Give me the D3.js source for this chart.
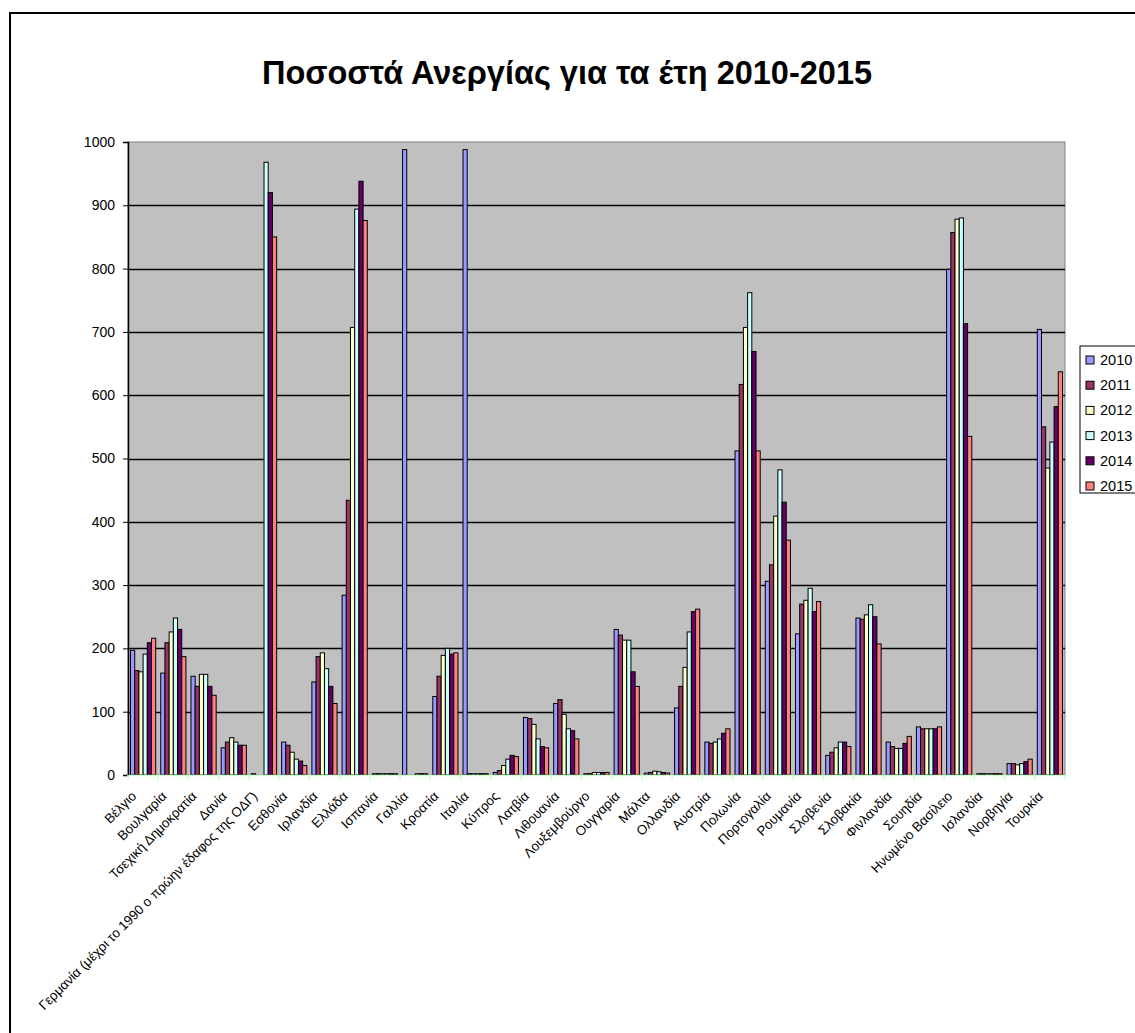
<!DOCTYPE html>
<html>
<head>
<meta charset="utf-8">
<script src="https://cdn.jsdelivr.net/npm/d3@7"></script>
<style>
	body { margin: 0; background: #fff; }
	text { font-family: "Liberation Sans", Arial, sans-serif; }
</style>
</head>
<body>
<svg id="chart" width="1135" height="1033"></svg>
<script>
// Data
var categories = [
	"Βέλγιο", "Βουλγαρία", "Τσεχική Δημοκρατία", "Δανία",
	"Γερμανία (μέχρι το 1990 ο πρώην έδαφος της ΟΔΓ)", "Εσθονία", "Ιρλανδία",
	"Ελλάδα", "Ισπανία", "Γαλλία", "Κροατία", "Ιταλία", "Κύπρος", "Λατβία",
	"Λιθουανία", "Λουξεμβούργο", "Ουγγαρία", "Μάλτα", "Ολλανδία", "Αυστρία",
	"Πολωνία", "Πορτογαλία", "Ρουμανία", "Σλοβενία", "Σλοβακία", "Φινλανδία",
	"Σουηδία", "Ηνωμένο Βασίλειο", "Ισλανδία", "Νορβηγία", "Τουρκία"
];

var years = ["2010", "2011", "2012", "2013", "2014", "2015"];

var v2010 = [197, 161, 156, 43, 2, 52, 147, 284, 2, 988, 124, 988, 4, 91, 113, 2, 230, 3, 106, 52, 512, 306, 223, 31, 248, 52, 76, 799, 2, 18, 704];
var v2011 = [165, 209, 140, 52, 0, 47, 187, 434, 2, 0, 156, 2, 7, 89, 119, 2, 221, 4, 140, 50, 617, 332, 270, 36, 246, 45, 73, 857, 2, 18, 550];
var v2012 = [163, 226, 159, 59, 0, 36, 193, 707, 2, 0, 189, 2, 15, 80, 96, 4, 213, 6, 170, 52, 707, 409, 276, 43, 253, 42, 73, 878, 2, 16, 485];
var v2013 = [191, 248, 159, 52, 968, 25, 168, 894, 2, 2, 200, 2, 25, 57, 73, 4, 213, 5, 226, 57, 762, 482, 295, 52, 269, 42, 73, 880, 2, 18, 526];
var v2014 = [209, 230, 140, 47, 920, 22, 140, 938, 2, 2, 191, 2, 31, 45, 70, 4, 163, 4, 258, 66, 669, 431, 258, 52, 250, 50, 73, 713, 2, 21, 582];
var v2015 = [216, 187, 126, 47, 850, 15, 113, 876, 2, 2, 193, 2, 29, 43, 57, 4, 140, 3, 262, 73, 512, 371, 274, 45, 207, 61, 76, 535, 2, 25, 637];

var yTicks = [0, 100, 200, 300, 400, 500, 600, 700, 800, 900, 1000];

var colors = ["#9999ff", "#993366", "#ffffcc", "#ccffff", "#660066", "#ff8080"];

var series = [v2010, v2011, v2012, v2013, v2014, v2015];

// Layout
var svg = d3.select("#chart"),
	plot = { left: 128, top: 142, right: 1065, bottom: 775 };

// Chart border
svg.append("rect")
	.attr("x", 10)
	.attr("y", 13)
	.attr("width", 1140)
	.attr("height", 1040)
	.attr("fill", "#fff")
	.attr("stroke", "#000")
	.attr("stroke-width", 2);

svg.append("text")
	.attr("x", 567)
	.attr("y", 84)
	.attr("text-anchor", "middle")
	.attr("font-size", 32.5)
	.attr("font-weight", "bold")
	.text("Ποσοστά Ανεργίας για τα έτη 2010-2015");

var x = d3.scaleBand()
	.domain(categories)
	.range([plot.left, plot.right])
	.paddingInner(0)
	.paddingOuter(0);

var y = d3.scaleLinear()
	.domain([0, 1000])
	.range([plot.bottom, plot.top]);

// Bars: 6 bars + 150% gap per group
var xs = d3.scaleBand()
	.domain(years)
	.range([0, x.bandwidth()])
	.paddingInner(0)
	.paddingOuter(0.75 * 6 / 7.5);

svg.append("rect")
	.attr("x", plot.left)
	.attr("y", plot.top)
	.attr("width", plot.right - plot.left)
	.attr("height", plot.bottom - plot.top)
	.attr("fill", "#c0c0c0")
	.attr("stroke", "#808080")
	.attr("stroke-width", 1);

// Gridlines
svg.append("g")
	.selectAll("line")
	.data(yTicks.slice(1, -1))
	.join("line")
	.attr("x1", plot.left)
	.attr("x2", plot.right)
	.attr("y1", function (d) { return Math.round(y(d)) + 0.5; })
	.attr("y2", function (d) { return Math.round(y(d)) + 0.5; })
	.attr("stroke", "#000")
	.attr("stroke-width", 1.5);

var barsG = svg.append("g");
years.forEach(function (yr, si) {
	barsG.append("g")
		.attr("fill", colors[si])
		.attr("stroke", "#000")
		.attr("stroke-width", 1)
		.selectAll("rect")
		.data(series[si])
		.join("rect")
		.attr("x", function (d, i) { return x(categories[i]) + xs(yr); })
		.attr("width", xs.bandwidth())
		.attr("y", function (d) { return y(d); })
		.attr("height", function (d) { return y(0) - y(d); })
		.attr("display", function (d) { return d > 0 ? null : "none"; });
});

// Y axis
var yAxis = svg.append("g")
	.attr("transform", "translate(" + plot.left + ",0)")
	.call(d3.axisLeft(y).tickValues(yTicks).tickFormat(d3.format("d")).tickSize(5).tickPadding(8));
yAxis.select(".domain").attr("stroke", "#000").attr("stroke-width", 1.5);
yAxis.selectAll(".tick line").attr("stroke", "#000");
yAxis.selectAll(".tick text")
	.attr("font-size", 14)
	.attr("font-family", "Liberation Sans, Arial, sans-serif")
	.attr("fill", "#000");

// X axis
var xAxis = svg.append("g")
	.attr("transform", "translate(0," + plot.bottom + ")")
	.call(d3.axisBottom(x).tickSize(0).tickFormat(""));
xAxis.select(".domain").attr("stroke", "#ccffcc").attr("stroke-width", 1.5);

svg.append("g")
	.selectAll("line")
	.data(d3.range(categories.length + 1))
	.join("line")
	.attr("x1", function (i) { return plot.left + i * x.step(); })
	.attr("x2", function (i) { return plot.left + i * x.step(); })
	.attr("y1", plot.bottom)
	.attr("y2", plot.bottom + 5)
	.attr("stroke", "#ccffcc")
	.attr("stroke-width", 1.5);

svg.append("g")
	.selectAll("text")
	.data(categories)
	.join("text")
	.attr("transform", function (d) {
		return "translate(" + (x(d) + x.bandwidth() / 2 - 6) + "," + (plot.bottom + 22) + ") rotate(-45)";
	})
	.attr("text-anchor", "end")
	.attr("font-size", 13.3)
	.attr("fill", "#000")
	.text(function (d) { return d; });

// Legend
var legend = svg.append("g")
	.attr("transform", "translate(1080,346)");
legend.append("rect")
	.attr("x", 0)
	.attr("y", 0)
	.attr("width", 70)
	.attr("height", 147)
	.attr("fill", "#fff")
	.attr("stroke", "#000");
years.forEach(function (yr, i) {
	legend.append("rect")
		.attr("x", 6)
		.attr("y", 11 + i * 25.2 - 1)
		.attr("width", 8)
		.attr("height", 8)
		.attr("fill", colors[i])
		.attr("stroke", "#000");
	legend.append("text")
		.attr("x", 20)
		.attr("y", 14 + i * 25.2 + 5)
		.attr("font-size", 14.5)
		.text(yr);
});
</script>
</body>
</html>
